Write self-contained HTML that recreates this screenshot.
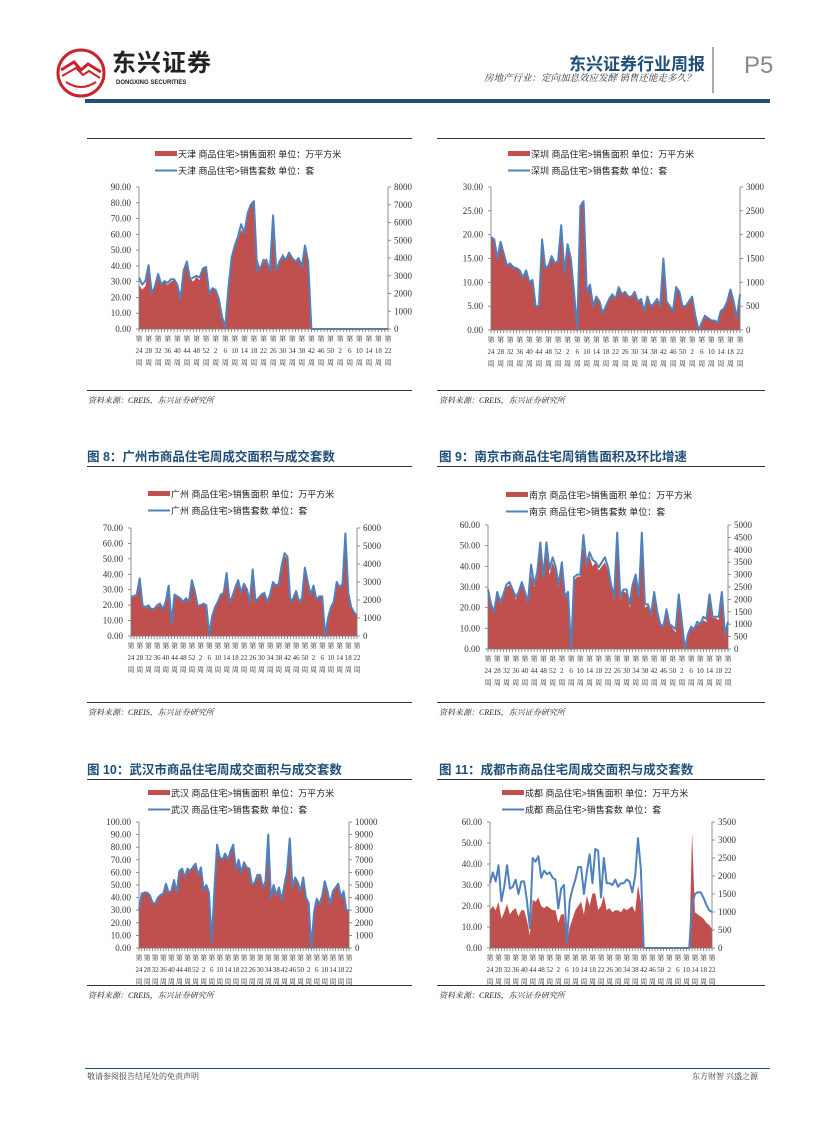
<!DOCTYPE html>
<html><head><meta charset="utf-8">
<style>
body{margin:0;background:#fff;}
#page{position:relative;width:827px;height:1122px;overflow:hidden;font-family:"Liberation Sans","Noto Sans CJK SC",sans-serif;}
.abs{position:absolute;white-space:nowrap;}
.cap{font-size:12.5px;font-weight:bold;color:#1F4E79;font-family:"Liberation Sans","Noto Sans CJK SC",sans-serif;}
.src{font-size:8px;font-style:italic;color:#222;font-family:"Liberation Serif","Noto Serif CJK SC",serif;}
.hr{position:absolute;height:1px;background:#333;}
</style></head>
<body>
<div id="page">
  <svg class="abs" style="left:56px;top:48px" width="50" height="50">
    <circle cx="25" cy="25" r="23" fill="#fff" stroke="#C9242B" stroke-width="3"/>
    <path d="M5 22 L18 14 L25 22 L32 16 L45 24" fill="none" stroke="#C9242B" stroke-width="3"/>
    <path d="M6 28 L20 20 L27 27 L33 23 L44 30" fill="none" stroke="#C9242B" stroke-width="2"/>
    <path d="M10 34 Q25 44 40 34" fill="none" stroke="#C9242B" stroke-width="2"/>
  </svg>
  <div class="abs" style="left:112px;top:50px;font-size:24px;font-weight:bold;color:#222;letter-spacing:1px;line-height:28px">东兴证券</div>
  <div class="abs" style="left:116px;top:80px;font-size:6px;font-weight:bold;color:#222">DONGXING SECURITIES</div>
  <div class="abs" style="left:569px;top:50px;font-size:17px;font-weight:bold;color:#1F4E79">东兴证券行业周报</div>
  <div class="abs" style="left:484px;top:70px;font-size:9.5px;font-style:italic;color:#333;font-family:'Liberation Serif','Noto Serif CJK SC',serif">房地产行业：定向加息效应发酵 销售还能走多久？</div>
  <div class="abs" style="left:712px;top:47px;width:2px;height:46px;background:#aaa"></div>
  <div class="abs" style="left:744px;top:52px;font-size:24px;color:#888">P5</div>
  <div class="abs" style="left:85px;top:99px;width:685px;height:4px;background:#1F4E79"></div>

  <div class="hr" style="left:87px;top:138px;width:325px"></div>
  <div class="hr" style="left:437px;top:138px;width:328px"></div>
  <div class="hr" style="left:87px;top:390px;width:325px"></div>
  <div class="hr" style="left:437px;top:390px;width:328px"></div>
  <div class="abs src" style="left:88px;top:395px">资料来源：CREIS，东兴证券研究所</div>
  <div class="abs src" style="left:439px;top:395px">资料来源：CREIS，东兴证券研究所</div>

  <div class="abs cap" style="left:87px;top:446px">图 8：广州市商品住宅周成交面积与成交套数</div>
  <div class="abs cap" style="left:439px;top:446px">图 9：南京市商品住宅周销售面积及环比增速</div>
  <div class="hr" style="left:87px;top:466px;width:325px"></div>
  <div class="hr" style="left:437px;top:466px;width:328px"></div>
  <div class="hr" style="left:87px;top:702px;width:325px"></div>
  <div class="hr" style="left:437px;top:702px;width:328px"></div>
  <div class="abs src" style="left:88px;top:707px">资料来源：CREIS，东兴证券研究所</div>
  <div class="abs src" style="left:439px;top:707px">资料来源：CREIS，东兴证券研究所</div>

  <div class="abs cap" style="left:87px;top:759px">图 10：武汉市商品住宅周成交面积与成交套数</div>
  <div class="abs cap" style="left:439px;top:759px">图 11：成都市商品住宅周成交面积与成交套数</div>
  <div class="hr" style="left:87px;top:779px;width:325px"></div>
  <div class="hr" style="left:437px;top:779px;width:328px"></div>
  <div class="hr" style="left:87px;top:985px;width:325px"></div>
  <div class="hr" style="left:437px;top:985px;width:328px"></div>
  <div class="abs src" style="left:88px;top:990px">资料来源：CREIS，东兴证券研究所</div>
  <div class="abs src" style="left:439px;top:990px">资料来源：CREIS，东兴证券研究所</div>

  <div class="abs" style="left:85px;top:1068px;width:685px;height:1px;background:#1F4E79"></div>
  <div class="abs" style="left:87px;top:1071px;font-size:8px;color:#333;font-family:'Liberation Serif','Noto Serif CJK SC',serif">敬请参阅报告结尾处的免责声明</div>
  <div class="abs" style="left:692px;top:1071px;font-size:8px;color:#333;font-family:'Liberation Serif','Noto Serif CJK SC',serif">东方财智 兴盛之源</div>

  <svg id="charts" class="abs" style="left:0;top:0" width="827" height="1122"></svg>
</div>
<script>
const weekLabels = ["24","28","32","36","40","44","48","52","2","6","10","14","18","22","26","30","34","38","42","46","50","2","6","10","14","18","22"];

const tianjinArea = [28,25,27, 38,22,26, 33,28,30, 28,30,31, 28,20,37, 42,32,30, 33,31,38, 39,22,26, 25,20,8, 1,25,45, 52,57,63, 60,72,78, 80,45,38, 42,45,38, 70,38,42, 48,44,48, 46,42,45, 42,52,45, 0,0,0,0,0,0,0,0,0,0,0,0,0,0,0,0,0,0,0,0,0,0,0,0,0];
const tianjinCount = [2900,2500,2700, 3600,2000,2400, 3100,2500,2700, 2600,2800,2800, 2500,1700,3300, 3800,2800,2900, 3000,2900,3400, 3500,2000,2300, 2200,1700,700, 100,2300,4000, 4700,5200,5900, 5400,6500,7000, 7200,3300,3400, 3900,3800,3300, 6400,3300,3800, 4100,3900,4300, 4000,3800,4000, 3500,4700,3800, 0,0,0,0,0,0,0,0,0,0,0,0,0,0,0,0,0,0,0,0,0,0,0,0,0];

const shenzhenArea = [19.5,19,15, 18.5,16,13.5, 14,13.5,13, 12.5,11,12.5, 10,10.5,5, 5,19,13, 13.5,15.5,14, 14.5,22,12, 18,15,8, 0,26,27, 8,9.5,5, 7,6,3.5, 5,6.5,7.5, 6.5,9,7.5, 8,7,7, 8,6,6.5, 4,7,5, 5.5,6.5,5, 15,6,5, 4,9,8, 5,5,6, 7,3,0, 1.5,3,2.5, 2,2,1.5, 4,4.5,6, 8.5,6,2.5, 7.5];
const shenzhenCount = [1950,1900,1500, 1850,1600,1350, 1400,1300,1300, 1250,1100,1250, 1000,1050,500, 500,1900,1300, 1350,1550,1400, 1450,2200,1200, 1800,1500,800, 0,2600,2700, 800,950,500, 700,600,350, 500,650,750, 650,900,750, 800,700,700, 800,600,650, 400,700,500, 550,650,500, 1500,600,500, 400,900,800, 500,500,600, 700,300,0, 150,300,250, 200,200,150, 400,450,600, 850,600,250, 750];

const guangzhouArea = [25,25,26, 36,19,18, 19,17,17, 19,20,17, 22,32,8, 26,25,24, 22,24,22, 36,28,20, 20,21,20, 2,12,18, 22,26,28, 41,22,25, 32,36,28, 33,30,22, 43,22,24, 27,28,22, 26,35,32, 34,44,52, 50,22,24, 28,22,24, 44,35,27, 32,23,26, 26,1,12, 18,22,35, 31,34,66, 28,19,15, 13];
const guangzhouCount = [2200,2200,2300, 3200,1700,1600, 1700,1500,1500, 1700,1800,1500, 1900,2800,700, 2300,2200,2100, 1900,2100,1900, 3100,2500,1700, 1700,1800,1700, 100,1100,1600, 1900,2300,2400, 3500,1900,2200, 2700,3100,2400, 2900,2600,1900, 3700,1900,2100, 2300,2400,1900, 2300,3000,2800, 2900,3900,4600, 4400,1900,2100, 2500,1900,2100, 3800,3000,2300, 2800,2000,2200, 2200,0,1000, 1600,1900,3000, 2700,2900,5700, 2400,1600,1300, 1150];

const nanjingArea = [27,21,17, 27,22,25, 30,31,28, 24,27,31, 27,22,36, 30,35,50, 34,48,36, 42,38,30, 40,25,26, 0,33,35, 35,50,40, 45,40,42, 38,40,42, 38,30,24, 55,24,28, 27,20,30, 35,25,55, 20,21,16, 27,16,12, 11,20,12, 10,8,25, 12,0,6, 10,9,12, 12,14,13, 25,15,15, 14,27,6, 12];
const nanjingCount = [2400,1800,1500, 2300,1900,2200, 2600,2700,2400, 2100,2300,2700, 2300,1900,3400, 2600,3100,4300, 2900,4300,3200, 3700,3300,2600, 3500,2100,2300, 0,2900,3000, 3000,4600,3400, 3900,3600,3500, 3300,3500,3700, 3300,2600,2100, 4700,2100,2400, 2400,1800,2600, 3000,2100,4700, 1800,1800,1400, 2300,1500,1000, 900,1600,1000, 900,800,2200, 1100,0,600, 900,800,1100, 1000,1300,1200, 2200,1300,1300, 1300,2300,600, 1100];

const wuhanArea = [30,42,44, 44,42,38, 35,40,42, 43,50,44, 45,52,44, 60,62,56, 62,60,63, 66,58,63, 46,50,45, 5,45,80, 72,70,74, 70,76,80, 62,70,60, 68,64,63, 50,52,57, 57,48,52, 88,40,50, 42,48,38, 50,60,86, 48,55,52, 45,55,40, 36,0,28, 38,35,40, 52,45,35, 44,48,50, 40,44,30, 30];
const wuhanCount = [3000,4300,4400, 4400,4200,3600, 3500,4000,4200, 4300,5100,4400, 4500,5400,4400, 6100,6300,5600, 6300,6100,6400, 6700,5800,6400, 4600,5000,4400, 500,4600,8200, 7200,7000,7500, 7000,7700,8200, 6200,7000,6000, 6800,6400,6300, 5000,5200,5800, 5800,4800,5300, 9000,4000,5000, 4200,4800,3800, 5000,6100,8700, 4800,5600,5200, 4500,5600,4000, 3600,0,2800, 3900,3500,4100, 5300,4500,3500, 4500,4800,5100, 4000,4500,3000, 3000];

const chengduArea = [18,20,18, 22,14,17, 21,16,18, 19,15,18, 18,13,6, 23,22,24, 20,19,20, 19,18,18, 12,16,16, 2,10,14, 18,20,22, 16,25,20, 26,26,18, 20,25,18, 19,17,18, 18,17,19, 18,19,20, 17,30,22, 0,0,0, 0,0,0, 0,0,0, 0,0,0, 0,0,0, 0,0,55, 17,16,15, 14,12,11, 9];
const chengduCount = [1800,2100,1850, 2300,1300,1700, 2300,1650,1700, 1900,1500,1850, 1850,1300,550, 2500,2400,2550, 1950,2150,2050, 2100,1950,1900, 1100,1650,1750, 150,1300,1650, 1900,2250,2250, 1500,2100,2600, 1800,2750,2700, 1400,2500,1800, 1800,1750,1900, 1700,1800,1800, 1900,1850,1550, 2000,3050,2200, 0,0,0, 0,0,0, 0,0,0, 0,0,0, 0,0,0, 0,0,1200, 1500,1550,1550, 1400,1200,1050, 1000];

const charts = [
 {id:'tianjin', city:'天津', area:tianjinArea, count:tianjinCount, L:139,R:388,T:187,B:329, lMax:90,lStep:10, rMax:8000,rStep:1000, legX:155, legY:154},
 {id:'shenzhen', city:'深圳', area:shenzhenArea, count:shenzhenCount, L:491,R:740,T:187,B:330, lMax:30,lStep:5, rMax:3000,rStep:500, legX:508, legY:154},
 {id:'guangzhou', city:'广州', area:guangzhouArea, count:guangzhouCount, L:131,R:357,T:528,B:636, lMax:70,lStep:10, rMax:6000,rStep:1000, legX:148, legY:494},
 {id:'nanjing', city:'南京', area:nanjingArea, count:nanjingCount, L:488,R:728,T:525,B:649, lMax:60,lStep:10, rMax:5000,rStep:500, legX:506, legY:495},
 {id:'wuhan', city:'武汉', area:wuhanArea, count:wuhanCount, L:139,R:349,T:822,B:948, lMax:100,lStep:10, rMax:10000,rStep:1000, legX:148, legY:793},
 {id:'chengdu', city:'成都', area:chengduArea, count:chengduCount, L:490,R:712,T:822,B:948, lMax:60,lStep:10, rMax:3500,rStep:500, legX:502, legY:793}
];

const NS='http://www.w3.org/2000/svg';
const svg=document.getElementById('charts');
function mk(tag,attrs,parent){const e=document.createElementNS(NS,tag);for(const k in attrs)e.setAttribute(k,attrs[k]);(parent||svg).appendChild(e);return e;}
function txt(s,attrs,parent){const e=mk('text',attrs,parent);e.textContent=s;return e;}

charts.forEach(c=>{
  const g=mk('g',{});
  
  
  const n=c.area.length;
  const xS=i=>c.L+i*(c.R-c.L)/(n-1);
  const yL=v=>c.B-v/c.lMax*(c.B-c.T);
  const yR=v=>c.B-v/c.rMax*(c.B-c.T);
  const l1=mk('rect',{x:c.legX,y:c.legY-3,width:22,height:5,fill:'#C0504D'},g);
  
  
  const t1=txt(c.city+' 商品住宅>销售面积 单位：万平方米',{x:c.legX+23,y:c.legY+3.5,'font-size':9,fill:'#222','font-family':'"Liberation Sans","Noto Sans CJK SC",sans-serif'},g);
  
  
  const l2=mk('line',{x1:c.legX,y1:c.legY+16.5,x2:c.legX+22,y2:c.legY+16.5,stroke:'#4F81BD','stroke-width':2},g);
  
  
  const t2=txt(c.city+' 商品住宅>销售套数 单位：套',{x:c.legX+23,y:c.legY+20,'font-size':9,fill:'#222','font-family':'"Liberation Sans","Noto Sans CJK SC",sans-serif'},g);
  
  
  let d='M'+xS(0)+' '+c.B;
  c.area.forEach((v,i)=>{d+=' L'+xS(i).toFixed(2)+' '+yL(v).toFixed(2);});
  d+=' L'+xS(n-1)+' '+c.B+' Z';
  const ar=mk('path',{d:d,fill:'#C0504D'},g);
  
  
  const pts=c.count.map((v,i)=>xS(i).toFixed(2)+','+yR(v).toFixed(2)).join(' ');
  const ln=mk('polyline',{points:pts,fill:'none',stroke:'#4F81BD','stroke-width':2,'stroke-linejoin':'round'},g);
  
  
  const ax=mk('g',{stroke:'#777','stroke-width':0.8},g);
  
  
  mk('line',{x1:c.L,y1:c.T,x2:c.L,y2:c.B},ax);
  mk('line',{x1:c.R,y1:c.T,x2:c.R,y2:c.B},ax);
  mk('line',{x1:c.L,y1:c.B,x2:c.R,y2:c.B},ax);
  for(let i=0;i<n;i++) mk('line',{x1:xS(i),y1:c.B,x2:xS(i),y2:c.B+3},ax);
  const tf='"Liberation Serif","Noto Serif CJK SC",serif';
  for(let v=0;v<=c.lMax+1e-9;v+=c.lStep){
    mk('line',{x1:c.L-3,y1:yL(v),x2:c.L,y2:yL(v)},ax);
    const t=txt(v.toFixed(2),{x:c.L-8,y:yL(v)+3,'font-size':9,'text-anchor':'end',fill:'#333','font-family':tf},g);
    
    
  }
  for(let v=0;v<=c.rMax+1e-9;v+=c.rStep){
    mk('line',{x1:c.R,y1:yR(v),x2:c.R+3,y2:yR(v)},ax);
    const t=txt(String(v),{x:c.R+6,y:yR(v)+3,'font-size':9,fill:'#333','font-family':tf},g);
    
    
  }
  weekLabels.forEach((s,j)=>{
    const x=xS(j*3);
    const a=txt('第',{x:x,y:c.B+12,'font-size':7,'text-anchor':'middle',fill:'#333','font-family':tf},g);
    
    
    const b=txt(s,{x:x,y:c.B+24,'font-size':7,'text-anchor':'middle',fill:'#333','font-family':tf},g);
    
    
    const e=txt('周',{x:x,y:c.B+36,'font-size':7,'text-anchor':'middle',fill:'#333','font-family':tf},g);
    
    
  });
});
</script>
</body></html>
